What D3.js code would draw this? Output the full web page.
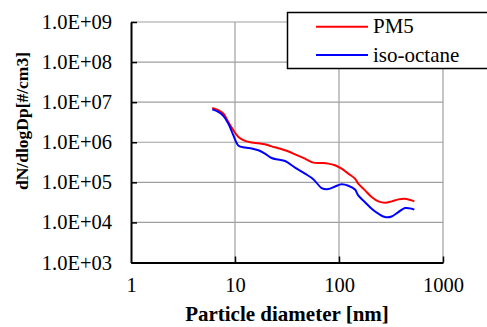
<!DOCTYPE html>
<html>
<head>
<meta charset="utf-8">
<script src="https://cdn.jsdelivr.net/npm/d3@7"></script>
</head>
<body style="margin:0">
<svg id="chart" width="487" height="327"></svg>
<script>
// particle diameter [nm]
const diameters = [6.05, 6.91, 7.72, 8.62, 9.63, 10.8, 12.5, 14.5, 16.8, 19.4, 22.5, 26.1, 30.3,
    37.8, 47.1, 56.6, 68.2, 78.9, 91.5, 106, 123, 142.5, 153, 178, 206, 239, 277, 321, 372, 431, 500, 530];
const pm5 = [7.2e6, 6.3e6, 5.2e6, 3.2e6, 2.0e6, 1.36e6, 1.08e6, 9.8e5, 9.4e5, 8.9e5, 7.9e5, 7.1e5, 6.3e5,
    5.0e5, 3.9e5, 3.1e5, 3.04e5, 2.93e5, 2.66e5, 2.2e5, 1.65e5, 1.24e5, 9.3e4, 6.3e4, 4.3e4, 3.35e4, 3.1e4, 3.35e4, 3.76e4, 3.9e4, 3.55e4, 3.35e4];
const isoOctane = [6.6e6, 5.7e6, 4.55e6, 2.93e6, 1.5e6, 8.2e5, 7.4e5, 7.0e5, 6.3e5, 5.2e5, 4.05e5, 3.7e5, 3.4e5,
    2.33e5, 1.65e5, 1.2e5, 7.2e4, 6.8e4, 7.9e4, 8.9e4, 8.2e4, 6.6e4, 4.7e4, 3.2e4, 2.2e4, 1.65e4, 1.36e4, 1.41e4, 1.81e4, 2.28e4, 2.2e4, 2.08e4];

const xTicks = [1, 10, 100, 1000];
const xTickLabels = ['1', '10', '100', '1000'];
const yTicks = [1e3, 1e4, 1e5, 1e6, 1e7, 1e8, 1e9];
const yTickLabels = ['1.0E+03', '1.0E+04', '1.0E+05', '1.0E+06', '1.0E+07', '1.0E+08', '1.0E+09'];

const seriesNames = ['PM5', 'iso-octane'];
const seriesColors = ['#ff0000', '#0000ff'];
const series = [pm5, isoOctane];

const FONT = 'Liberation Serif';

const svg = d3.select('#chart');
const plot = { left: 131, right: 443, top: 22, bottom: 262.5 };

const x = d3.scaleLog().domain([1, 1000]).range([plot.left, plot.right]);
const y = d3.scaleLog().domain([1e3, 1e9]).range([plot.bottom, plot.top]);

// grid
const grid = svg.append('g').attr('stroke', '#a0a0a0').attr('stroke-width', 1.2);
grid.selectAll('.hgrid')
    .data(yTicks.filter(d => d > 1e3))
    .join('line')
    .attr('x1', plot.left).attr('x2', plot.right)
    .attr('y1', d => y(d)).attr('y2', d => y(d));
grid.selectAll('.vgrid')
    .data(xTicks.filter(d => d > 1))
    .join('line')
    .attr('x1', d => x(d)).attr('x2', d => x(d))
    .attr('y1', plot.top).attr('y2', plot.bottom);

// series lines
const line = d3.line()
    .x((d, i) => x(diameters[i]))
    .y(d => y(d))
    .curve(d3.curveCatmullRom.alpha(0.5));

svg.append('g')
    .selectAll('path')
    .data(series)
    .join('path')
    .attr('d', line)
    .attr('fill', 'none')
    .attr('stroke', (d, i) => seriesColors[i])
    .attr('stroke-width', 2);

// axes
const yAxis = d3.axisLeft(y)
    .tickValues(yTicks)
    .tickFormat((d, i) => yTickLabels[i])
    .tickSizeInner(-6)
    .tickSizeOuter(0)
    .tickPadding(19);

const xAxis = d3.axisBottom(x)
    .tickValues(xTicks)
    .tickFormat((d, i) => xTickLabels[i])
    .tickSizeInner(-6)
    .tickSizeOuter(0)
    .tickPadding(15);

const gy = svg.append('g')
    .attr('transform', `translate(${plot.left},0)`)
    .call(yAxis);
const gx = svg.append('g')
    .attr('transform', `translate(0,${plot.bottom})`)
    .call(xAxis);

[gx, gy].forEach(g => {
    g.select('.domain').attr('stroke', '#000').attr('stroke-width', 2);
    g.selectAll('.tick line').attr('stroke', '#000').attr('stroke-width', 1.5);
    g.selectAll('.tick text')
        .attr('fill', '#000')
        .style('font-family', FONT)
        .style('font-size', '20.5px');
});
gx.select('.tick line').remove();

// axis titles
svg.append('text')
    .attr('x', (plot.left + plot.right) / 2)
    .attr('y', 321)
    .attr('text-anchor', 'middle')
    .style('font-family', FONT)
    .style('font-weight', 'bold')
    .style('font-size', '21px')
    .text('Particle diameter [nm]');

svg.append('text')
    .attr('transform', 'translate(28,121) rotate(-90)')
    .attr('text-anchor', 'middle')
    .style('font-family', FONT)
    .style('font-weight', 'bold')
    .style('font-size', '17.5px')
    .text('dN/dlogDp[#/cm3]');

// legend
const legend = svg.append('g');
legend.append('rect')
    .attr('x', 287.5).attr('y', 12.5)
    .attr('width', 210).attr('height', 56)
    .attr('fill', '#fff')
    .attr('stroke', '#000')
    .attr('stroke-width', 1.5);

const items = legend.selectAll('.item')
    .data(seriesNames)
    .join('g')
    .attr('transform', (d, i) => `translate(0,${26.7 + i * 28.3})`);
items.append('line')
    .attr('x1', 316).attr('x2', 368)
    .attr('stroke', (d, i) => seriesColors[i])
    .attr('stroke-width', 2);
items.append('text')
    .attr('x', 373)
    .attr('y', 6.5)
    .style('font-family', FONT)
    .style('font-size', '21px')
    .text(d => d);
</script>
</body>
</html>
